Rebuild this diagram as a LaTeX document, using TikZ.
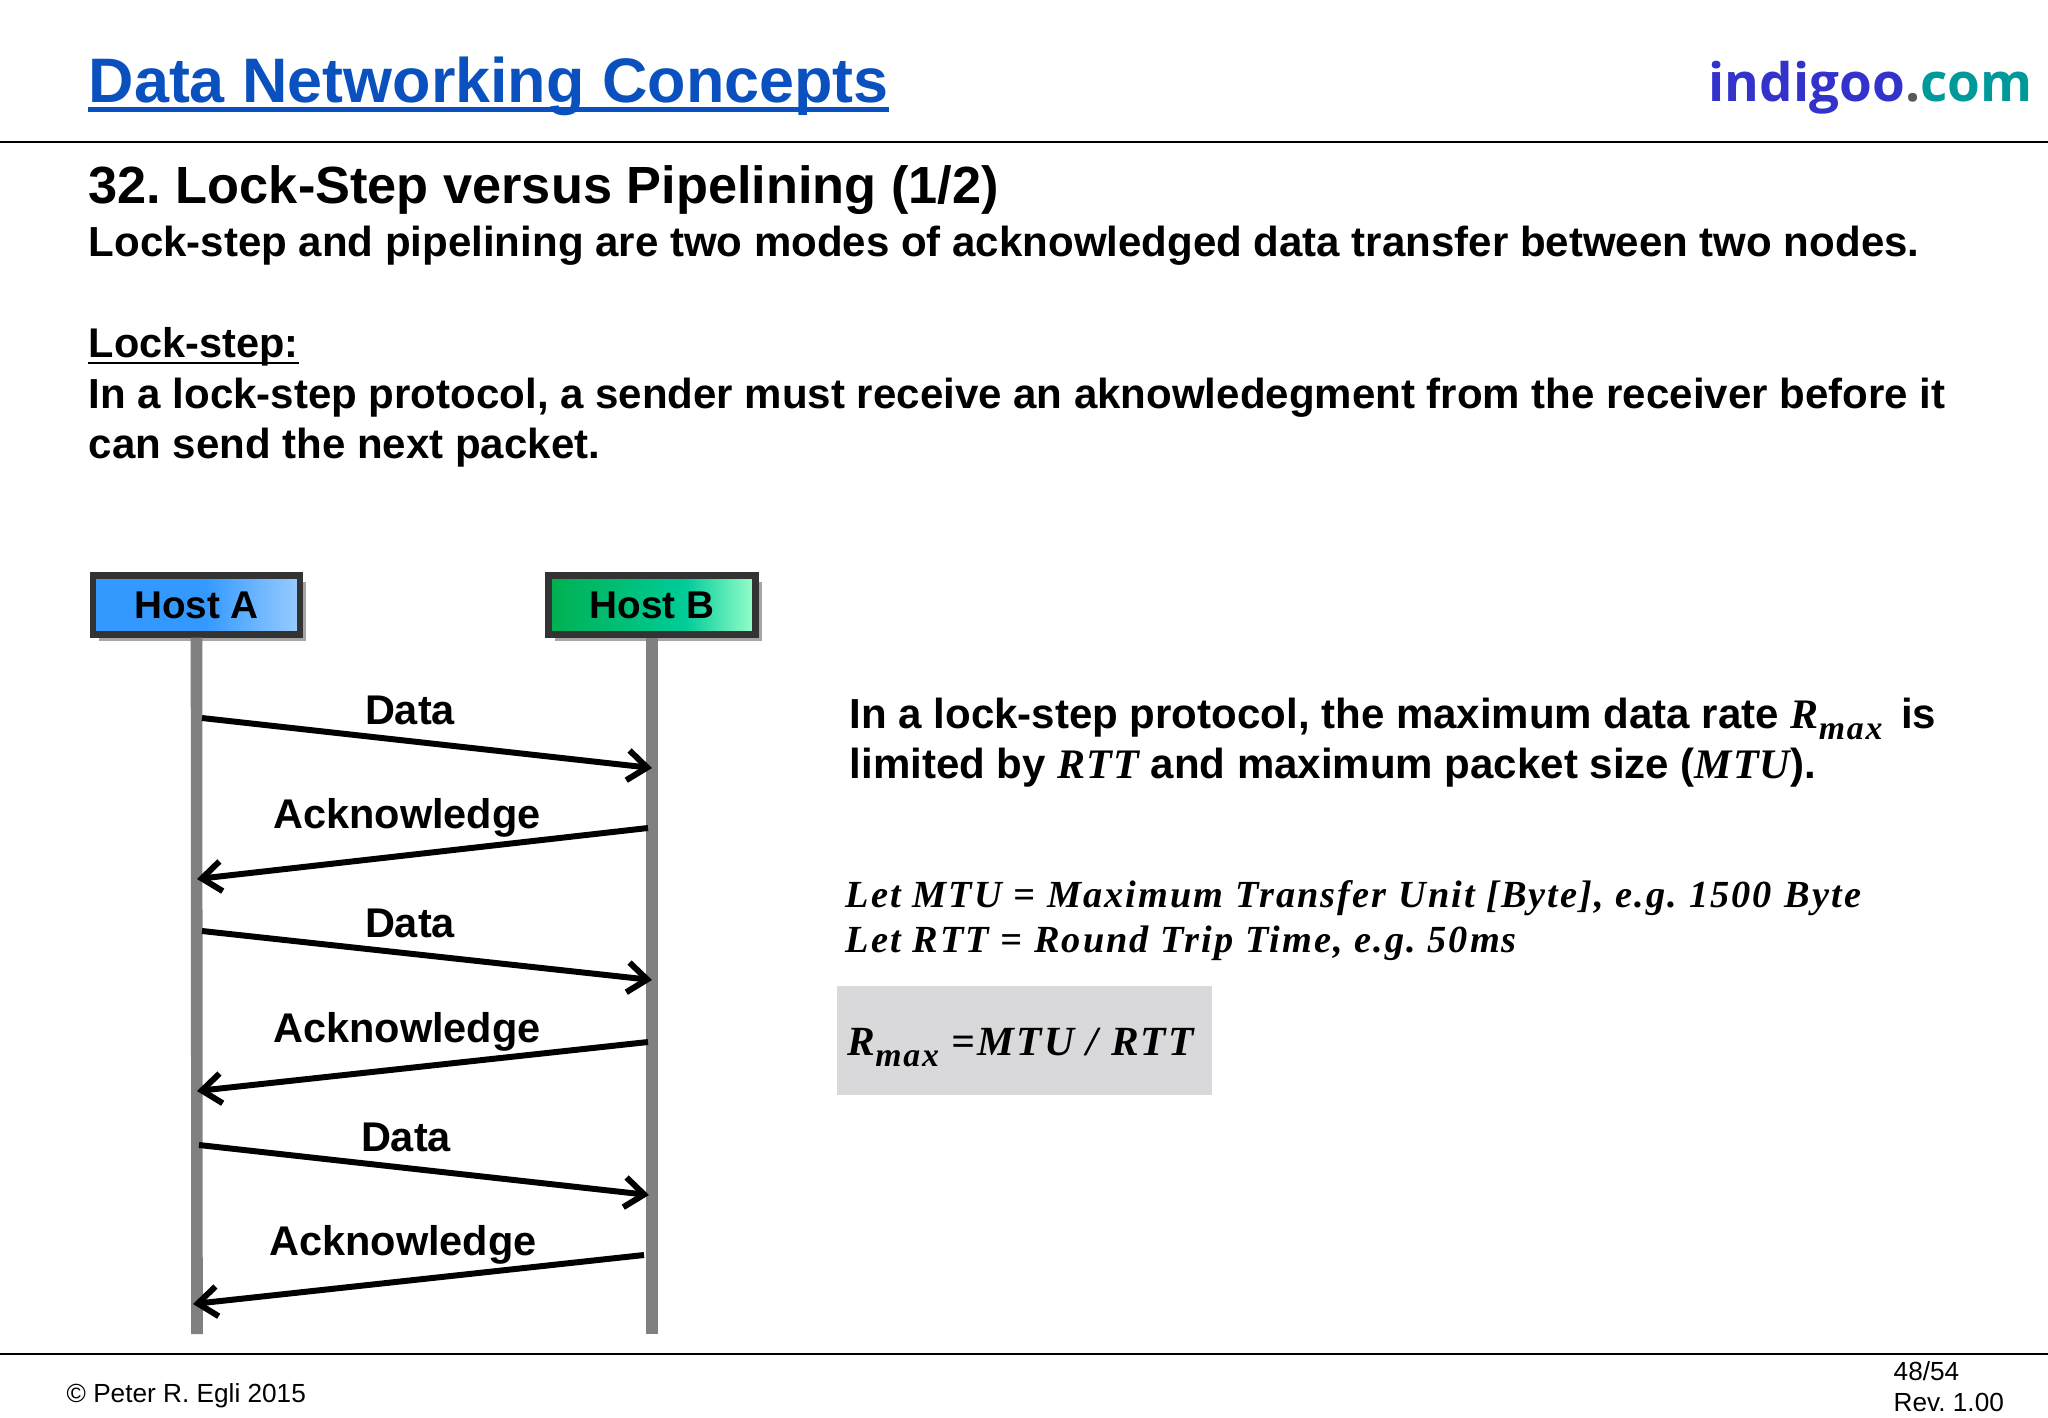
\documentclass[tikz,border=0pt]{standalone}
\usepackage{fontspec}
\setmainfont{Liberation Sans}
\newfontfamily\logofont{Open Sans}
\newfontfamily\eqfont[LetterSpace=5.4]{Liberation Serif}
\newfontfamily\inlinefont[LetterSpace=2.5]{Liberation Serif}
\usetikzlibrary{arrows.meta,positioning,shadows}
\usepackage{xcolor}
\definecolor{titleblue}{HTML}{0A50BE}
\definecolor{logoblue}{HTML}{3333CC}
\definecolor{logogray}{HTML}{595959}
\definecolor{logoteal}{HTML}{009999}
\definecolor{boxedge}{HTML}{333333}
\definecolor{lifegray}{HTML}{808080}
\definecolor{ratebox}{HTML}{D9D9DB}
\definecolor{hostablue}{HTML}{3399FF}
\definecolor{hostapale}{HTML}{99CCFF}
\definecolor{hostbgreen}{HTML}{00B050}
\definecolor{hostbteal}{HTML}{00CC99}
\definecolor{hostbpale}{HTML}{99FFCC}
\pgfdeclarehorizontalshading{hosta}{100bp}{color(0bp)=(hostablue); color(25bp)=(hostablue); color(52bp)=(hostablue); color(75bp)=(hostapale); color(100bp)=(hostapale)}
\pgfdeclarehorizontalshading{hostb}{100bp}{color(0bp)=(hostbgreen); color(25bp)=(hostbgreen); color(58bp)=(hostbteal); color(75bp)=(hostbpale); color(100bp)=(hostbpale)}
\tikzset{
  txt/.style={anchor=base west,inner sep=0pt,font=\bfseries\fontsize{11.95}{14}\selectfont},
  eqn/.style={anchor=base west,inner sep=0pt,font=\eqfont\bfseries\itshape\fontsize{10.9}{13}\selectfont},
  small/.style={anchor=base west,inner sep=0pt,font=\fontsize{7.45}{9}\selectfont},
  host/.style={draw=boxedge,line width=1.8pt,minimum width=2.07cm,minimum height=0.59cm,text depth=0pt,font=\bfseries\fontsize{11}{13}\selectfont,drop shadow={shadow xshift=1.8pt,shadow yshift=-1.8pt,opacity=0.35,fill=black}},
  life/.style={lifegray,line width=3.3pt},
  msg/.style={line width=1.7pt,-{Straight Barb[length=5.5pt,width=8.5pt,line width=1.7pt]}},
  msglabel/.style={inner sep=0pt,font=\bfseries\fontsize{11.8}{14}\selectfont},
}
\newcommand{\Rmax}{R\raisebox{-0.28em}{\fontsize{9.6}{10}\selectfont max}}
\begin{document}
\frenchspacing
\begin{tikzpicture}[x=0.01cm,y=-0.01cm]
  \useasboundingbox (0,0) rectangle (2048,1418);

  % Header
  \node[txt,titleblue,font=\bfseries\fontsize{17.88}{20}\selectfont] (title) at (88,102) {Data Networking Concepts};
  \draw[titleblue,line width=1.3pt] ([yshift=-2.2pt]title.base west) -- ([yshift=-2.2pt]title.base east);
  \node[anchor=base west,inner sep=0pt,font=\logofont\bfseries\fontsize{15.07}{18}\selectfont] (logo) at (1708,101)
    {\textcolor{logoblue}{indigoo}\textcolor{logogray}{.}\textcolor{logoteal}{com}};
  \draw[line width=0.6pt] (0,142) -- (2048,142);

  % Intro text
  \node[txt,font=\bfseries\fontsize{14.88}{17}\selectfont] (heading) at (88,203) {32. Lock-Step versus Pipelining (1/2)};
  \node[txt] (intro) at (88,256) {Lock-step and pipelining are two modes of acknowledged data transfer between two nodes.};
  \node[txt,font=\bfseries\fontsize{11.8}{14}\selectfont] (lockstep) at (88,357) {Lock-step:};
  \draw[line width=0.7pt] ([yshift=-1.7pt]lockstep.base west) -- ([yshift=-1.7pt]lockstep.base east);
  \node[txt] (descone) at (88,408) {In a lock-step protocol, a sender must receive an aknowledegment from the receiver before it};
  \node[txt] (desctwo) at (88,458) {can send the next packet.};

  % Hosts and lifelines
  \coordinate (enda) at (197,1334);
  \coordinate (endb) at (652,1334);
  \node[host,shading=hosta] (hosta) at (196.5,605) {Host A};
  \node[host,shading=hostb] (hostb) at (652,605) {Host B};
  \draw[life] (hosta.south) -- (enda);
  \draw[life] (hostb.south) -- (endb);

  % Messages
  \coordinate (d1s) at (202,718);  \coordinate (d1e) at (652,768);
  \coordinate (a1s) at (648,828);  \coordinate (a1e) at (197,879);
  \coordinate (d2s) at (202,931);  \coordinate (d2e) at (652,980);
  \coordinate (a2s) at (648,1042); \coordinate (a2e) at (197,1091);
  \coordinate (d3s) at (199,1145); \coordinate (d3e) at (649,1195);
  \coordinate (a3s) at (644,1255); \coordinate (a3e) at (193,1304);
  \draw[msg] (d1s) -- (d1e);
  \draw[msg] (a1s) -- (a1e);
  \draw[msg] (d2s) -- (d2e);
  \draw[msg] (a2s) -- (a2e);
  \draw[msg] (d3s) -- (d3e);
  \draw[msg] (a3s) -- (a3e);
  \node[msglabel] (data1) at (410,710) {Data};
  \node[msglabel] (ack1) at (407,818) {Acknowledge};
  \node[msglabel] (data2) at (410,923) {Data};
  \node[msglabel] (ack2) at (407,1032) {Acknowledge};
  \node[msglabel] (data3) at (406,1137) {Data};
  \node[msglabel] (ack3) at (403,1245) {Acknowledge};

  % Right side
  \node[txt] (rateone) at (849,728) {In a lock-step protocol, the maximum data rate {\eqfont\itshape\Rmax}\, is};
  \node[txt] (ratetwo) at (849,778) {limited by {\inlinefont\itshape RTT} and maximum packet size ({\inlinefont\itshape MTU}).};
  \node[eqn] (letmtu) at (845,907) {Let MTU = Maximum Transfer Unit [Byte], e.g. 1500\,\,Byte};
  \node[eqn] (letrtt) at (845,952) {Let RTT = Round Trip Time, e.g. 50ms};
  \fill[ratebox] (837,986) rectangle (1212,1095);
  \node[eqn,font=\eqfont\bfseries\itshape\fontsize{11.8}{14}\selectfont] (rate) at (847,1055) {\Rmax\ =MTU / RTT};

  % Footer
  \draw[line width=0.6pt] (0,1354) -- (2048,1354);
  \node[small] (copy) at (66,1402) {© Peter R. Egli 2015};
  \node[small] (page) at (1893,1380) {48/54};
  \node[small] (rev) at (1893,1411) {Rev. 1.00};
\end{tikzpicture}
\end{document}
